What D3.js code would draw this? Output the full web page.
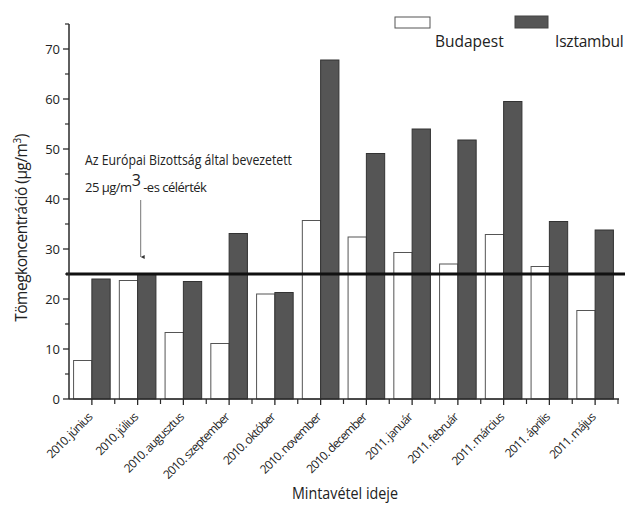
<!DOCTYPE html>
<html>
<head>
<meta charset="utf-8">
<script src="https://cdn.jsdelivr.net/npm/d3@7"></script>
<style>
  html, body { margin: 0; padding: 0; background: #fff; }
  svg { display: block; font-family: "Open Sans", "Noto Sans", sans-serif; }
</style>
</head>
<body>
<svg id="chart" width="625" height="506"></svg>
<script>
// Monthly PM mass concentration, Budapest vs. Istanbul
const months = [
  "2010. június", "2010. július", "2010. augusztus", "2010. szeptember",
  "2010. október", "2010. november", "2010. december", "2011. január",
  "2011. február", "2011. március", "2011. április", "2011. május"
];
const budapest = [7.7, 23.7, 13.3, 11.1, 21.0, 35.7, 32.4, 29.3, 27.0, 32.9, 26.5, 17.7];
const isztambul = [24.0, 25.1, 23.5, 33.1, 21.3, 67.8, 49.1, 54.0, 51.8, 59.5, 35.5, 33.8];
const yTicks = [0, 10, 20, 30, 40, 50, 60, 70];
const yMinorTicks = [5, 15, 25, 35, 45, 55, 65, 75];
const limitValue = 25;

const svg = d3.select("#chart");

const x = d3.scaleBand().domain(months).range([69, 618]).paddingInner(0).paddingOuter(0);
const y = d3.scaleLinear().domain([0, 75]).range([399, 24]);
const bw = x.bandwidth();

const axisColor = "#2a2a2a";
const textColor = "#222";

// bars
const groups = svg.append("g").selectAll("g").data(months).join("g");
groups.append("rect")
  .attr("x", d => x(d) + bw * 0.1)
  .attr("y", (d, i) => y(budapest[i]))
  .attr("width", bw * 0.4)
  .attr("height", (d, i) => y(0) - y(budapest[i]))
  .attr("fill", "#fff")
  .attr("stroke", "#555")
  .attr("stroke-width", 1);
groups.append("rect")
  .attr("x", d => x(d) + bw * 0.5)
  .attr("y", (d, i) => y(isztambul[i]))
  .attr("width", bw * 0.4)
  .attr("height", (d, i) => y(0) - y(isztambul[i]))
  .attr("fill", "#555")
  .attr("stroke", "#333")
  .attr("stroke-width", 1);

// limit line
svg.append("line")
  .attr("x1", 66).attr("x2", 625)
  .attr("y1", y(limitValue)).attr("y2", y(limitValue))
  .attr("stroke", "#111").attr("stroke-width", 3);

// y axis
const yAxisG = svg.append("g");
yAxisG.append("line")
  .attr("x1", 69).attr("x2", 69).attr("y1", y(75)).attr("y2", y(0))
  .attr("stroke", axisColor).attr("stroke-width", 1.5);
yAxisG.selectAll(".ymaj").data(yTicks).join("line")
  .attr("x1", 63).attr("x2", 69)
  .attr("y1", d => y(d)).attr("y2", d => y(d))
  .attr("stroke", axisColor).attr("stroke-width", 1.3);
yAxisG.selectAll(".ymin").data(yMinorTicks).join("line")
  .attr("x1", 65).attr("x2", 69)
  .attr("y1", d => y(d)).attr("y2", d => y(d))
  .attr("stroke", axisColor).attr("stroke-width", 1.2);
yAxisG.selectAll("text").data(yTicks).join("text")
  .attr("x", 60).attr("y", d => y(d))
  .attr("dy", "0.35em")
  .attr("text-anchor", "end")
  .attr("font-size", 13)
  .attr("fill", textColor)
  .text(d => d);

// x axis
const xAxisG = svg.append("g");
xAxisG.append("line")
  .attr("x1", 69).attr("x2", 619).attr("y1", y(0)).attr("y2", y(0))
  .attr("stroke", axisColor).attr("stroke-width", 1.5);
xAxisG.selectAll(".xmaj").data(months).join("line")
  .attr("x1", d => x(d) + bw / 2).attr("x2", d => x(d) + bw / 2)
  .attr("y1", y(0)).attr("y2", y(0) + 6)
  .attr("stroke", axisColor).attr("stroke-width", 1.3);
xAxisG.selectAll(".xmin").data(months).join("line")
  .attr("x1", d => x(d) + bw).attr("x2", d => x(d) + bw)
  .attr("y1", y(0)).attr("y2", y(0) + 5)
  .attr("stroke", axisColor).attr("stroke-width", 1.2);
xAxisG.selectAll("text").data(months).join("text")
  .attr("transform", d => `translate(${x(d) + bw / 2 + 1},${y(0) + 19}) rotate(-45)`)
  .attr("text-anchor", "end")
  .attr("font-size", 12)
  .attr("letter-spacing", "-0.8px")
  .attr("fill", textColor)
  .text(d => d);

// axis titles
svg.append("text")
  .attr("x", 292).attr("y", 499)
  .attr("font-size", 16)
  .attr("textLength", 106)
  .attr("lengthAdjust", "spacingAndGlyphs")
  .attr("fill", textColor)
  .text("Mintavétel ideje");

const yTitle = svg.append("text")
  .attr("transform", "translate(27,228) rotate(-90)")
  .attr("text-anchor", "middle")
  .attr("font-size", 15.5)
  .attr("letter-spacing", "-0.5px")
  .attr("fill", textColor);
yTitle.append("tspan").text("Tömegkoncentráció (µg/m");
yTitle.append("tspan").attr("dy", -6).attr("font-size", 10).text("3");
yTitle.append("tspan").attr("dy", 6).text(")");

// annotation for the limit value
svg.append("text")
  .attr("x", 85).attr("y", 165)
  .attr("font-size", 14)
  .attr("textLength", 207)
  .attr("lengthAdjust", "spacingAndGlyphs")
  .attr("fill", textColor)
  .text("Az Európai Bizottság által bevezetett");
const ann2 = svg.append("text")
  .attr("x", 85).attr("y", 192)
  .attr("font-size", 13)
  .attr("letter-spacing", "-0.5px")
  .attr("fill", textColor);
ann2.append("tspan").text("25 µg/m");
ann2.append("tspan").attr("dy", -6).attr("font-size", 16).text("3");
ann2.append("tspan").attr("dy", 6).text(" -es célérték");

svg.append("defs").append("marker")
  .attr("id", "arrow")
  .attr("viewBox", "0 0 10 10")
  .attr("refX", 5).attr("refY", 10)
  .attr("markerWidth", 4).attr("markerHeight", 7)
  .attr("orient", "auto-start-reverse")
  .attr("markerUnits", "userSpaceOnUse")
  .append("path").attr("d", "M0,0 L10,0 L5,10 Z").attr("fill", "#333");
svg.append("line")
  .attr("x1", 140.7).attr("x2", 140.7)
  .attr("y1", 200).attr("y2", 257)
  .attr("stroke", "#777").attr("stroke-width", 1)
  .attr("marker-end", "url(#arrow)");

// legend
const legend = svg.append("g");
legend.append("rect")
  .attr("x", 395).attr("y", 17).attr("width", 35).attr("height", 11)
  .attr("fill", "#fff").attr("stroke", "#555").attr("stroke-width", 1);
legend.append("rect")
  .attr("x", 515).attr("y", 16).attr("width", 33).attr("height", 12)
  .attr("fill", "#555").attr("stroke", "#444").attr("stroke-width", 1);
legend.append("text")
  .attr("x", 435).attr("y", 47).attr("font-size", 15.5).attr("fill", textColor)
  .text("Budapest");
legend.append("text")
  .attr("x", 555).attr("y", 47).attr("font-size", 15.5).attr("fill", textColor)
  .attr("letter-spacing", "-0.2px")
  .text("Isztambul");
</script>
</body>
</html>
